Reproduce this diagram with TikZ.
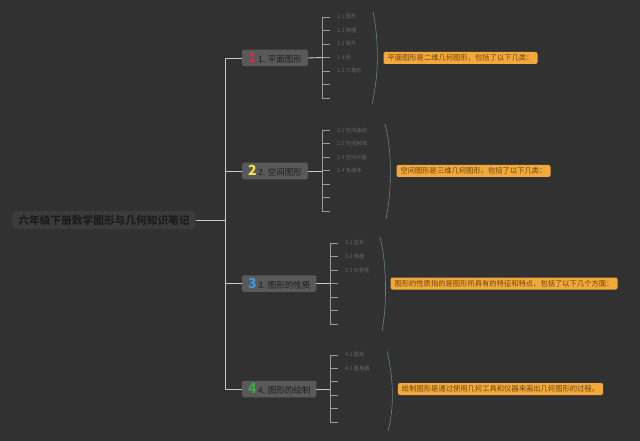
\documentclass[tikz,border=0pt]{standalone}
\usepackage{fontspec}
\setmainfont{Noto Sans CJK SC}
\usepackage{tikz}
\usetikzlibrary{positioning}
\definecolor{bg}{HTML}{313131}
\definecolor{rootfill}{HTML}{3B3B3B}
\definecolor{topicfill}{HTML}{595959}
\definecolor{txtdark}{HTML}{1C1C1C}
\definecolor{leaftxt}{HTML}{666666}
\definecolor{linec}{HTML}{C8C8C8}
\definecolor{stubc}{HTML}{9A9A9A}
\definecolor{bracec}{HTML}{64847F}
\definecolor{notefill}{HTML}{F2A93B}
\definecolor{notetxt}{HTML}{6B4410}
\definecolor{numred}{HTML}{C8304A}
\definecolor{numyellow}{HTML}{F2E24A}
\definecolor{numblue}{HTML}{3A9AD9}
\definecolor{numgreen}{HTML}{3FA845}
\newcommand{\topicnum}[2]{{\fontsize{14}{14}\selectfont\bfseries\color{#1}#2}\,}

\begin{document}
\begin{tikzpicture}[x=1pt,y=-1pt,
  root/.style={fill=rootfill,rounded corners=2pt,text=txtdark,font=\fontsize{10.7}{12}\selectfont\bfseries,minimum height=18pt,inner xsep=6pt,inner ysep=2pt},
  topic/.style={fill=topicfill,rounded corners=1.5pt,text=txtdark,font=\fontsize{8.5}{10}\selectfont,minimum height=16.5pt,inner xsep=6pt,inner ysep=1.5pt,anchor=west},
  leaf/.style={text=leaftxt,font=\fontsize{5.3}{6}\selectfont,anchor=west,inner sep=0pt},
  note/.style={fill=notefill,rounded corners=2pt,text=notetxt,font=\fontsize{7.3}{8}\selectfont,minimum height=12pt,inner xsep=4pt,inner ysep=1pt},
  conn/.style={draw=linec,line width=0.9pt},
  stub/.style={draw=stubc,line width=0.9pt},
  brace/.style={draw=bracec,line width=0.6pt}]
\fill[bg] (0,0) rectangle (640,441);
\useasboundingbox (0,0) rectangle (640,441);

\node at (104,220)[root] (root) {六年级下册数学图形与几何知识笔记};
\node at (242,58)[topic] (b1) {\topicnum{numred}{1}1. 平面图形};
\node at (242,171)[topic] (b2) {\topicnum{numyellow}{2}2. 空间图形};
\node at (242,283.5)[topic] (b3) {\topicnum{numblue}{3}3. 图形的性质};
\node at (242,389)[topic] (b4) {\topicnum{numgreen}{4}4. 图形的绘制};
\coordinate (trunk) at (225,220);
\draw[conn] (root.east) -- (trunk);
\foreach \b in {b1,b2,b3,b4}
  \draw[conn] (trunk) |- (\b.west);

\foreach \i in {1,...,7} \coordinate (a\i) at (322,{17+(\i-1)*13.5});
\foreach \i in {1,...,7} \coordinate (c\i) at (322,{130+(\i-1)*13.5});
\foreach \i in {1,...,7} \coordinate (d\i) at (330,{243+(\i-1)*13.5});
\foreach \i in {1,...,6} \coordinate (e\i) at (330,{355+(\i-1)*13.4});
\draw[stub] (a1) -- (a7);
\draw[stub] (c1) -- (c7);
\draw[stub] (d1) -- (d7);
\draw[stub] (e1) -- (e6);
\foreach \i in {1,...,7} {
  \draw[stub] (a\i) -- ++(8,0);
  \draw[stub] (c\i) -- ++(8,0);
  \draw[stub] (d\i) -- ++(8,0);
}
\foreach \i in {1,...,6} \draw[stub] (e\i) -- ++(8,0);
\draw[conn] (b1.east) -- (a4);
\draw[conn] (b2.east) -- (b2.east -| c4);
\draw[conn] (b3.east) -- (b3.east -| d4);
\draw[conn] (b4.east) -- (b4.east -| e3);

\node at (337,17)[leaf] (l11) {1.1 圆形};
\node at (337,30.5)[leaf] (l12) {1.2 椭圆};
\node at (337,44)[leaf] (l13) {1.3 矩形};
\node at (337,57.5)[leaf] (l14) {1.4 线};
\node at (337,71)[leaf] (l15) {1.5 三角形};
\node at (337,130)[leaf] (l21) {2.1 空间曲线};
\node at (337,143.5)[leaf] (l22) {2.2 空间射线};
\node at (337,157)[leaf] (l23) {2.3 空间平面};
\node at (337,170.5)[leaf] (l24) {2.4 多面体};
\node at (345,243)[leaf] (l31) {3.1 边长};
\node at (345,256.5)[leaf] (l32) {3.2 角度};
\node at (345,270)[leaf] (l33) {3.3 对称性};
\node at (345,355)[leaf] (l41) {4.1 圆规};
\node at (345,368.4)[leaf] (l42) {4.2 量角器};

\draw[brace] (373,12) .. controls (379,40) and (379,75) .. (372,104);
\draw[brace] (385,124) .. controls (392,150) and (392,190) .. (386,219);
\draw[brace] (380,237) .. controls (387,265) and (387,305) .. (382,331);
\draw[brace] (387,351) .. controls (394,380) and (394,410) .. (388,431);

\node at (460.5,58)[note] (n1) {平面图形是二维几何图形，包括了以下几类：};
\node at (473.5,171)[note] (n2) {空间图形是三维几何图形，包括了以下几类：};
\node at (504,283.5)[note] (n3) {图形的性质指的是图形所具有的特征和特点，包括了以下几个方面：};
\node at (500.5,389)[note] (n4) {绘制图形是通过使用几何工具和仪器来画出几何图形的过程。};
\end{tikzpicture}
\end{document}
